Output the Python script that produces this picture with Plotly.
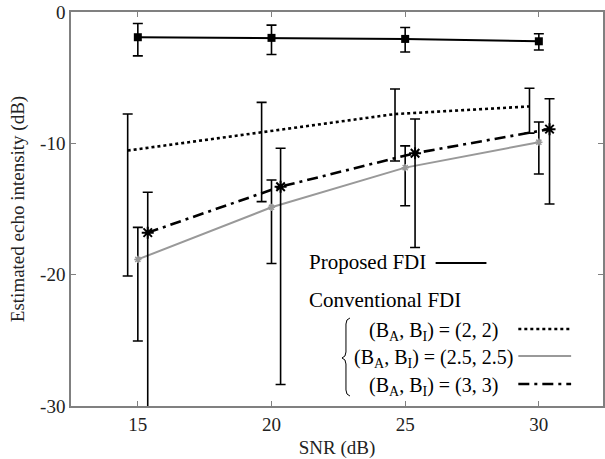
import plotly.graph_objects as go

snr = [15, 20, 25, 30]

# Proposed FDI
prop_mean = [-1.92, -1.97, -2.05, -2.23]
prop_hi = [-0.88, -1.0, -1.18, -1.66]
prop_lo = [-3.34, -3.24, -3.04, -2.89]

# Conventional (2,2) - dotted, shifted left
c22_x = [14.62, 19.63, 24.62, 29.65]
c22_mean = [-10.55, -9.15, -7.77, -7.19]
c22_hi = [-7.77, -6.88, -5.86, -5.81]
c22_lo = [-20.1, -14.44, -11.34, -9.22]

# Conventional (2.5,2.5) - gray solid
c25_mean = [-18.84, -14.87, -11.85, -9.91]
c25_hi = [-16.4, -12.79, -10.19, -8.38]
c25_lo = [-25.05, -19.15, -14.75, -12.33]

# Conventional (3,3) - dash-dot, shifted right
c33_x = [15.37, 20.34, 25.37, 30.4]
c33_mean = [-16.8, -13.3, -10.75, -8.92]
c33_hi = [-13.73, -10.37, -8.15, -6.6]
c33_lo = [-33.0, -28.36, -17.93, -14.62]

FONT = "Liberation Serif"
L, R, T, B = 71, 0, 12, 53
W, H = 605, 459


def err(mean, hi, lo):
    return dict(type="data", symmetric=False,
                array=[h - m for h, m in zip(hi, mean)],
                arrayminus=[m - l for m, l in zip(mean, lo)],
                color="black", thickness=1.6, width=5)


fig = go.Figure()
fig.add_trace(go.Scatter(x=c22_x, y=c22_mean, mode="lines",
                         line=dict(color="black", width=2.6, dash="3px,3px"),
                         error_y=err(c22_mean, c22_hi, c22_lo)))
fig.add_trace(go.Scatter(x=snr, y=c25_mean, mode="lines+markers",
                         line=dict(color="#999999", width=2),
                         marker=dict(symbol="asterisk-open", size=6,
                                     line=dict(color="black", width=1.5)),
                         error_y=err(c25_mean, c25_hi, c25_lo)))
fig.add_trace(go.Scatter(x=c33_x, y=c33_mean, mode="lines+markers",
                         line=dict(color="black", width=2.6, dash="11px,5px,3px,5px"),
                         marker=dict(symbol="asterisk-open", size=10,
                                     line=dict(color="black", width=2)),
                         error_y=err(c33_mean, c33_hi, c33_lo)))
fig.add_trace(go.Scatter(x=snr, y=prop_mean, mode="lines+markers",
                         line=dict(color="black", width=2),
                         marker=dict(symbol="square", size=8, color="black"),
                         error_y=err(prop_mean, prop_hi, prop_lo)))

pw = W - L - R
ph = H - T - B


def px(xp):
    return (xp - L) / pw


def py(yp):
    return (H - B - yp) / ph


ann_font = dict(family=FONT, size=21, color="black")
annotations = []
shapes = []

annotations.append(dict(xref="paper", yref="paper", x=px(308), y=py(262),
                        xanchor="left", yanchor="middle", showarrow=False,
                        text="Proposed FDI", font=ann_font))
shapes.append(dict(type="line", xref="paper", yref="paper",
                   x0=px(437), x1=px(488), y0=py(263), y1=py(263),
                   line=dict(color="black", width=2)))
annotations.append(dict(xref="paper", yref="paper", x=px(308), y=py(300),
                        xanchor="left", yanchor="middle", showarrow=False,
                        text="Conventional FDI", font=ann_font))

rows = [("(B<sub>A</sub>, B<sub>I</sub>) = (2, 2)", 331, 435,
         dict(color="black", width=2.6, dash="3px,3px")),
        ("(B<sub>A</sub>, B<sub>I</sub>) = (2.5, 2.5)", 358, 435,
         dict(color="#999999", width=2)),
        ("(B<sub>A</sub>, B<sub>I</sub>) = (3, 3)", 386, 435,
         dict(color="black", width=2.6, dash="11px,5px,3px,5px"))]
for txt, yy, xc, ln in rows:
    annotations.append(dict(xref="paper", yref="paper", x=px(xc), y=py(yy),
                            xanchor="center", yanchor="middle", showarrow=False,
                            text=txt, font=dict(family=FONT, size=20, color="black")))
    shapes.append(dict(type="line", xref="paper", yref="paper",
                       x0=px(520), x1=px(573), y0=py(yy - 2), y1=py(yy - 2), line=ln))

# brace
pts = [("M", 351, 318), ("Q", 347, 319, 347, 324), ("L", 347, 352),
       ("Q", 347, 357, 343, 358), ("Q", 347, 359, 347, 364), ("L", 347, 390),
       ("Q", 347, 395, 351, 396)]
path = ""
for p in pts:
    cmd = p[0]
    coords = p[1:]
    s = []
    for i in range(0, len(coords), 2):
        s.append(f"{px(coords[i]):.5f},{py(coords[i+1]):.5f}")
    path += cmd + " " + " ".join(s) + " "
shapes.append(dict(type="path", xref="paper", yref="paper", path=path.strip(),
                   line=dict(color="black", width=1)))

axis_common = dict(showline=True, linecolor="#808080", linewidth=1.5,
                   mirror="ticks", ticks="inside", ticklen=5, tickcolor="#808080",
                   showgrid=False, zeroline=False,
                   tickfont=dict(family=FONT, size=19, color="#222"))

fig.update_layout(
    width=W, height=H,
    margin=dict(l=L, r=R, t=T, b=B),
    paper_bgcolor="white", plot_bgcolor="white",
    showlegend=False,
    xaxis=dict(range=[12.5, 32.4], tickvals=snr, ticktext=[str(s) for s in snr],
               title=dict(text="SNR (dB)", font=dict(family=FONT, size=19, color="#222"),
                          standoff=8),
               **axis_common),
    yaxis=dict(range=[-30, 0], tickvals=[0, -10, -20, -30],
               ticktext=["0", "-10", "-20", "-30"],
               title=dict(text="Estimated echo intensity (dB)",
                          font=dict(family=FONT, size=19, color="#222"), standoff=10),
               **axis_common),
    annotations=annotations, shapes=shapes,
)

fig.write_html("out.html")
